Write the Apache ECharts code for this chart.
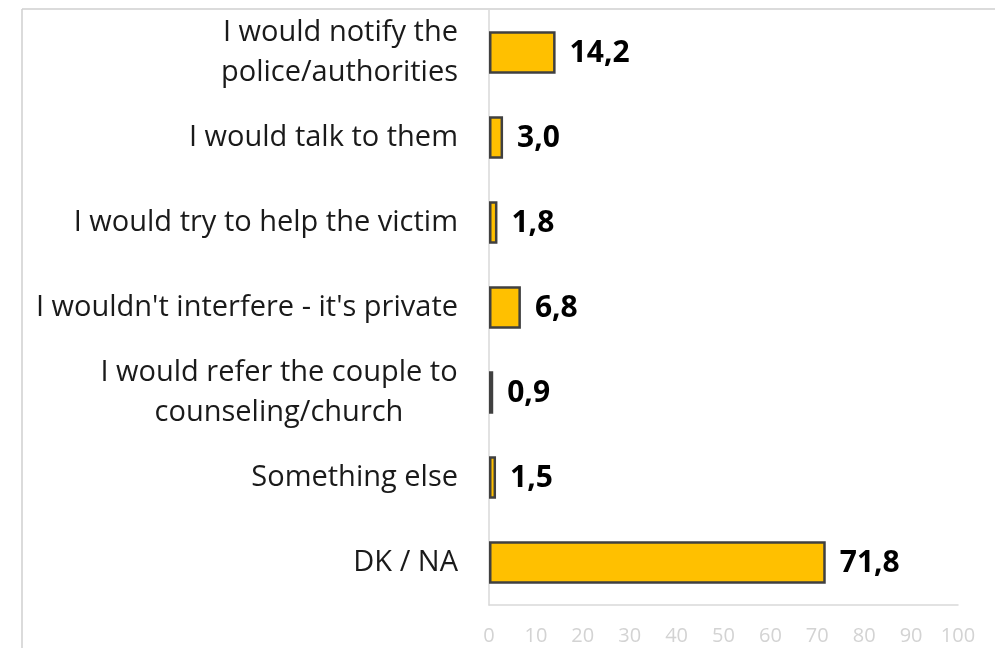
<!DOCTYPE html>
<html><head><meta charset="utf-8">
<script src="https://cdn.jsdelivr.net/npm/echarts@6/dist/echarts.min.js"></script>
<style>html,body{margin:0;padding:0;background:#fff}#c{width:995px;height:648px;position:relative}</style>
</head><body><div id="c"></div>
<script>
const categories = [
  "I would notify the\npolice/authorities",
  "I would talk to them",
  "I would try to help the victim",
  "I wouldn't interfere - it's private",
  "I would refer the couple to\ncounseling/church",
  "Something else",
  "DK / NA"
];
const values = [14.2, 3.0, 1.8, 6.8, 0.9, 1.5, 71.8];
const tickLabels = [0,10,20,30,40,50,60,70,80,90,100];

const chart = echarts.init(document.getElementById('c'), null, {renderer:'canvas'});
chart.setOption({
  animation:false,
  graphic:[
    {type:'line', shape:{x1:22,y1:9,x2:995,y2:9}, style:{stroke:'#cfcfcf',lineWidth:1.5}},
    {type:'line', shape:{x1:22,y1:9,x2:22,y2:648}, style:{stroke:'#cfcfcf',lineWidth:1.5}}
  ],
  grid:{left:489,right:37,top:10,bottom:43,containLabel:false},
  xAxis:{type:'value',min:0,max:100,interval:10,
    axisLine:{show:true,lineStyle:{color:'#d9d9d9',width:1.5}},
    axisTick:{show:false},splitLine:{show:false},
    axisLabel:{margin:21,color:'#d3d3d3',fontFamily:'Open Sans',fontSize:20,
      formatter:v=>tickLabels.includes(v)?String(v):''}},
  yAxis:{type:'category',inverse:true,data:categories,
    axisLine:{show:true,lineStyle:{color:'#d9d9d9',width:1.5}},
    axisTick:{show:false},
    axisLabel:{margin:31,color:'#1a1a1a',fontFamily:'Open Sans',fontSize:29,lineHeight:40,align:'right',
      formatter:v=>v.indexOf('counseling')>=0 ? v.split('\n').map(s=>'{c|'+s+'}').join('\n') : v,
      rich:{c:{width:358,align:'center',fontFamily:'Open Sans',fontSize:29,lineHeight:40,color:'#1a1a1a'}}}},
  series:[{type:'bar',data:values,barCategoryGap:'50%',
    itemStyle:{color:'#FFC000',borderColor:'#404040',borderWidth:2.5},
    label:{show:true,position:'right',distance:14,color:'#000',fontFamily:'Open Sans',fontWeight:'bold',fontSize:30,
      offset:[0,1],
      formatter:p=>p.value.toFixed(1).replace('.',',')}}]
});
</script></body></html>
